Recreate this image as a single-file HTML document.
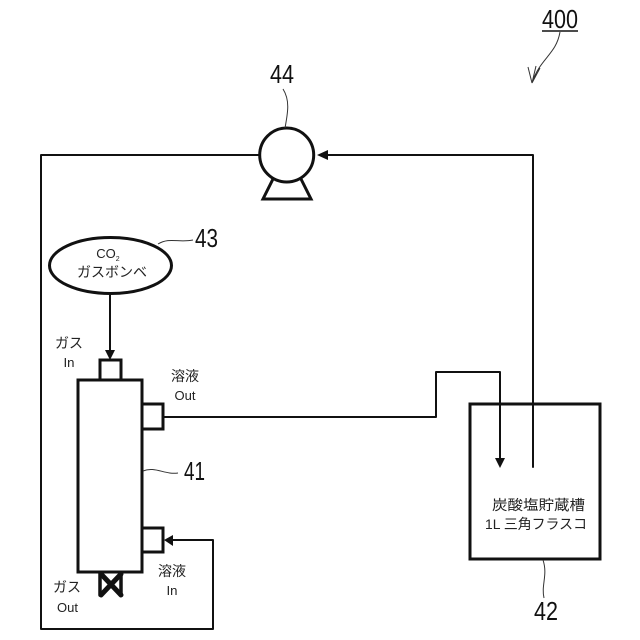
<!DOCTYPE html>
<html><head><meta charset="utf-8"><style>
html,body{margin:0;padding:0;background:#fff}
svg{display:block}
text{font-family:"Liberation Sans","Noto Sans CJK JP",sans-serif;fill:#222}
.n{font-size:26px;fill:#111}
.l{font-size:14px;text-anchor:middle}
.s{font-size:13px;text-anchor:middle}
</style></head><body>
<svg width="640" height="640" viewBox="0 0 640 640" xmlns="http://www.w3.org/2000/svg">
<g fill="none" stroke="#111" stroke-width="2" stroke-linejoin="round" stroke-linecap="round">
<path d="M259 155H41V629H213V540H170"/>
<path d="M533 467V155H325"/>
<path d="M163 417H436V372H500V460"/>
<path d="M110 294V352"/>
</g>
<g fill="#111" stroke="none">
<path d="M317 155L328 150V160Z"/>
<path d="M164 540L173 535V546Z"/>
<path d="M495 458H505L500 468Z"/>
<path d="M105 350H115L110 360Z"/>
</g>
<g fill="none" stroke="#111" stroke-width="3">
<rect x="78" y="380" width="64" height="192"/>
<rect x="100" y="360" width="21" height="20"/>
<rect x="142" y="404" width="21" height="25"/>
<rect x="142" y="528" width="21" height="24"/>
<rect x="470" y="404" width="130" height="155"/>
<circle cx="286.7" cy="155" r="27"/>
<ellipse cx="110.5" cy="265.5" rx="61" ry="28"/>
<path d="M273 179L263 199H311L301 179"/>
</g>
<g fill="none" stroke="#111" stroke-linecap="round">
<path d="M100 573V595M121 573V595" stroke-width="3.5"/>
<path d="M101 574L121 595M121 574L101 595" stroke-width="5"/>
</g>
<g fill="none" stroke="#333" stroke-width="1">
<path d="M283 89C290 100 288 112 285 128"/>
<path d="M158 244C170 237 178 243 193 240"/>
<path d="M143 471C155 466 165 475 178 473"/>
<path d="M543 560C548 575 541 585 544 598"/>
<path d="M542 31H578" stroke="#111" stroke-width="1.5"/>
<path d="M560 32C556 55 540 58 532 83M532 83L528 67M532 83L540 68M532 83L536 66"/>
</g>
<text class="n" x="270" y="83" textLength="24" lengthAdjust="spacingAndGlyphs">44</text>
<text class="n" x="195" y="247" textLength="23" lengthAdjust="spacingAndGlyphs">43</text>
<text class="n" x="184" y="480" textLength="21" lengthAdjust="spacingAndGlyphs">41</text>
<text class="n" x="534" y="620" textLength="24" lengthAdjust="spacingAndGlyphs">42</text>
<text class="n" x="542" y="28" textLength="36" lengthAdjust="spacingAndGlyphs">400</text>
<text class="s" x="108" y="258">CO<tspan font-size="7" dy="3">2</tspan></text>
<text class="l" x="112" y="277" textLength="70" lengthAdjust="spacingAndGlyphs">ガスボンベ</text>
<text class="l" x="69" y="348">ガス</text>
<text class="s" x="69" y="367" textLength="11" lengthAdjust="spacingAndGlyphs">In</text>
<text class="l" x="185" y="381">溶液</text>
<text class="s" x="185" y="400">Out</text>
<text class="l" x="172" y="576">溶液</text>
<text class="s" x="172" y="595" textLength="11" lengthAdjust="spacingAndGlyphs">In</text>
<text class="l" x="67" y="592">ガス</text>
<text class="s" x="67.5" y="612">Out</text>
<text class="l" x="538.5" y="510" textLength="93" lengthAdjust="spacingAndGlyphs">炭酸塩貯蔵槽</text>
<text class="l" x="536" y="529" textLength="102" lengthAdjust="spacingAndGlyphs">1L 三角フラスコ</text>
</svg>
</body></html>
